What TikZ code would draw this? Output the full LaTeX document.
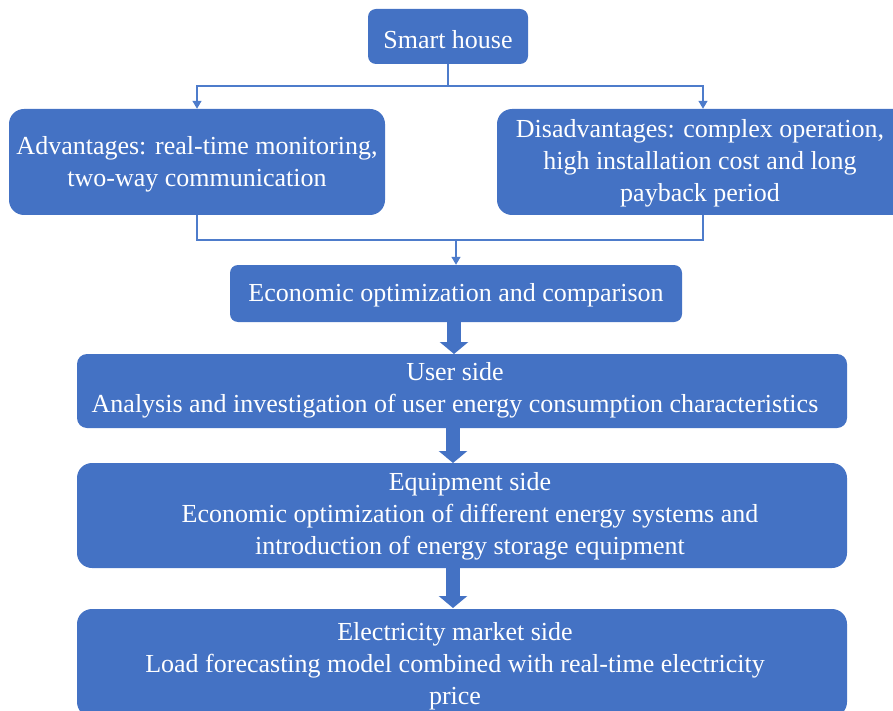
\documentclass[tikz,border=0pt]{standalone}
\usepackage{fontspec}
\setmainfont{Liberation Serif}
\usetikzlibrary{arrows.meta}
\definecolor{boxblue}{HTML}{4472C4}
\definecolor{lineblue}{HTML}{4E7CCB}
\begin{document}
\begin{tikzpicture}[x=1pt,y=-1pt,
  box/.style={fill=boxblue, draw=none, inner sep=0pt, rounded corners=#1},
  box/.default=8pt,
  txt/.style={text=white, align=center, inner sep=0pt, font=\fontsize{26}{32}\selectfont},
  conn/.style={draw=lineblue, line width=1.3pt, -{Triangle[width=9pt,length=8pt]}},
  plainconn/.style={draw=lineblue, line width=1.3pt},
  bigarrow/.style={draw=boxblue, line width=14pt, -{Triangle[width=28pt,length=12pt]}}]
\useasboundingbox (0,0) rectangle (893,711);
\clip (0,0) rectangle (893,711);
% boxes
\node[box, minimum width=160pt, minimum height=55pt] (smart) at (448,36.5) {};
\node[box=15pt, minimum width=376pt, minimum height=106pt] (adv) at (197,162) {};
\node[box=15pt, minimum width=412pt, minimum height=106pt] (dis) at (703,162) {};
\node[box, minimum width=452pt, minimum height=57pt] (econ) at (456,293.5) {};
\node[box=10pt, minimum width=770pt, minimum height=74pt] (user) at (462,391) {};
\node[box=15pt, minimum width=770pt, minimum height=105pt] (equip) at (462,515.5) {};
\node[box=15pt, minimum width=770pt, minimum height=108pt] (elec) at (462,663) {};
% texts
\node[txt] (tsmart) at (448,39.5) {Smart house};
\node[txt] (tadv) at (197,164.5) {Advantages: real-time monitoring,\\two-way communication};
\node[txt] (tdis) at (700,163.5) {Disadvantages: complex operation,\\high installation cost and long\\payback period};
\node[txt] (tecon) at (456,295.5) {Economic optimization and comparison};
\node[txt] (tuser) at (455,390.5) {User side\\Analysis and investigation of user energy consumption characteristics};
\node[txt] (tequip) at (470,516) {Equipment side\\Economic optimization of different energy systems and\\introduction of energy storage equipment};
\node[txt] (telec) at (455,666) {Electricity market side\\Load forecasting model combined with real-time electricity\\price};
% thin connectors
\coordinate (split1) at (448,86);
\coordinate (merge1) at (456,240);
\draw[plainconn] (smart.south) -- (split1);
\draw[conn] (split1) -| (adv.north);
\draw[conn] (split1) -| (dis.north);
\draw[plainconn] (adv.south) |- (merge1);
\draw[plainconn] (dis.south) |- (merge1);
\draw[conn] (merge1) -- (econ.north -| merge1);
% thick arrows
\draw[bigarrow] (454,322) -- (454,354);
\draw[bigarrow] (453,428) -- (453,463);
\draw[bigarrow] (453,568) -- (453,608);
\end{tikzpicture}
\end{document}
